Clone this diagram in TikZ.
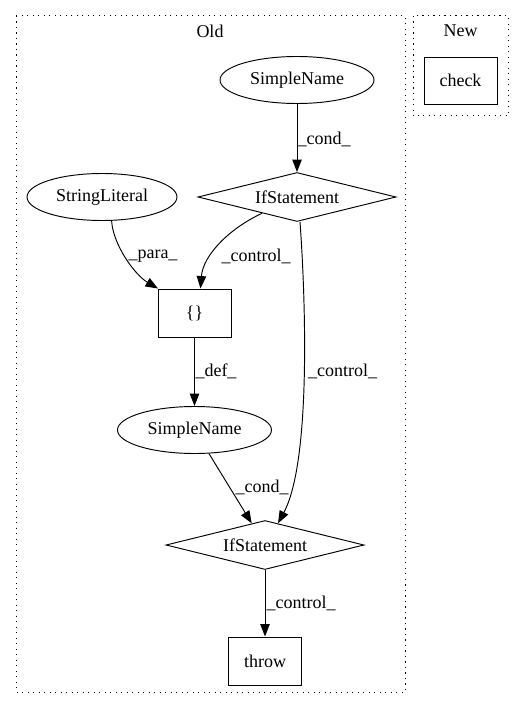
\documentclass[tikz,border=0pt]{standalone}
\usepackage{fontspec}
\setmainfont{Liberation Serif}
\usetikzlibrary{shapes.geometric,arrows.meta}
\begin{document}
\begin{tikzpicture}[x=1bp,y=1bp,
  every node/.style={font=\fontsize{18bp}{20bp}\selectfont},
  ell/.style={draw,ellipse,line width=0.95bp,minimum width=154bp,minimum height=47bp,inner sep=0pt},
  dia/.style={draw,diamond,aspect=4,line width=0.95bp,minimum width=198bp,minimum height=49bp,inner sep=0pt},
  box/.style={draw,rectangle,line width=0.95bp,minimum width=73bp,minimum height=48bp,inner sep=0pt},
  cluster/.style={draw,line width=1bp,dash pattern=on 1.3bp off 4.2bp},
  lbl/.style={inner sep=0pt},
  edge/.style={line width=0.95bp,-{Triangle[length=12.5bp,width=9.5bp]}}
]
\useasboundingbox (0,0) rectangle (527,-712);
% clusters
\draw[cluster] (16,-16) rectangle (405,-692);
\draw[cluster] (413,-16) rectangle (508,-116);
\node[lbl] (oldlbl) at (210,-31) {Old};
\node[lbl] (newlbl) at (460.5,-31) {New};
% nodes
\node[ell] (sn1) at (297,-80) {SimpleName};
\node[dia] (ifA) at (297,-197) {IfStatement};
\node[ell,minimum width=150bp] (sl) at (102,-197) {StringLiteral};
\node[box] (brace) at (194.5,-313) {\{\}};
\node[ell] (sn2) at (194.5,-430) {SimpleName};
\node[dia] (ifB) at (265,-545) {IfStatement};
\node[box] (throw) at (265,-661) {throw};
\node[box,minimum height=47bp] (check) at (460.5,-80.5) {check};
% edges
\draw[edge] (sn1.south) -- (ifA.north);
\node[lbl] (l1) at (324,-139) {\_cond\_};
\draw[edge] (ifA.-155) .. controls (230,-228) and (203,-255) .. ([xshift=6bp]brace.north);
\node[lbl] (l2) at (256,-256) {\_control\_};
\draw[edge] (sl.-68) .. controls (113,-245) and (135,-275) .. ([xshift=0.5bp]brace.north west);
\node[lbl] (l3) at (153,-256) {\_para\_};
\draw[edge] ([xshift=3bp]ifA.south) .. controls (305,-290) and (312,-460) .. (ifB.59);
\node[lbl] (l4) at (342.5,-371) {\_control\_};
\draw[edge] (brace.south) -- (sn2.north);
\node[lbl] (l5) at (216,-371) {\_def\_};
\draw[edge] (sn2) -- (ifB);
\node[lbl] (l6) at (262,-487) {\_cond\_};
\draw[edge] (ifB.south) -- (throw.north);
\node[lbl] (l7) at (301,-603) {\_control\_};
\end{tikzpicture}
\end{document}
